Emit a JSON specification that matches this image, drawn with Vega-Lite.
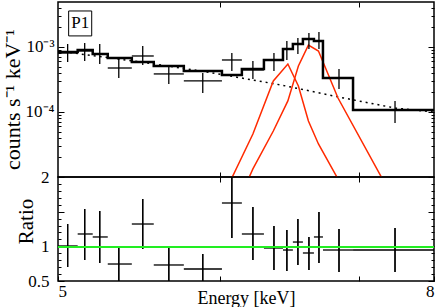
{
  "$schema": "https://vega.github.io/schema/vega-lite/v6.json",
  "padding": {"left": 0, "top": 0, "right": 0, "bottom": 0},
  "spacing": 0,
  "bounds": "flush",
  "config": {
    "font": "Liberation Serif",
    "view": {"stroke": "black", "strokeWidth": 1.5},
    "axis": {"domain": false, "grid": false, "tickColor": "black", "tickWidth": 1, "labelColor": "black", "titleColor": "black", "labelFont": "Liberation Serif", "titleFont": "Liberation Serif", "titleFontWeight": "normal", "labelFontSize": 17, "titleFontSize": 19}
  },
  "datasets": {
    "spec": [
      {"e": 5.077, "e0": 5.0, "e1": 5.157, "f": 8.09e-4, "flo": 5.88e-4, "fhi": 1.11e-3, "r": 1.005, "rlo": 0.702, "rhi": 1.322},
      {"e": 5.213, "e0": 5.157, "e1": 5.277, "f": 8.68e-4, "flo": 6.09e-4, "fhi": 1.15e-3, "r": 1.178, "rlo": 0.803, "rhi": 1.538},
      {"e": 5.333, "e0": 5.277, "e1": 5.397, "f": 7.80e-4, "flo": 5.47e-4, "fhi": 1.11e-3, "r": 1.135, "rlo": 0.76, "rhi": 1.51},
      {"e": 5.485, "e0": 5.397, "e1": 5.589, "f": 4.75e-4, "flo": 3.34e-4, "fhi": 6.54e-4, "r": 0.745, "rlo": 0.49, "rhi": 0.976},
      {"e": 5.676, "e0": 5.589, "e1": 5.764, "f": 7.27e-4, "flo": 5.28e-4, "fhi": 1.04e-3, "r": 1.322, "rlo": 0.96, "rhi": 1.683},
      {"e": 5.884, "e0": 5.764, "e1": 6.004, "f": 3.85e-4, "flo": 2.70e-4, "fhi": 5.10e-4, "r": 0.731, "rlo": 0.49, "rhi": 0.976},
      {"e": 6.155, "e0": 6.004, "e1": 6.308, "f": 3.00e-4, "flo": 1.96e-4, "fhi": 3.98e-4, "r": 0.673, "rlo": 0.49, "rhi": 0.889},
      {"e": 6.387, "e0": 6.308, "e1": 6.467, "f": 6.31e-4, "flo": 4.27e-4, "fhi": 8.09e-4, "r": 1.625, "rlo": 1.12, "rhi": 2.02},
      {"e": 6.555, "e0": 6.467, "e1": 6.643, "f": 4.43e-4, "flo": 3.22e-4, "fhi": 6.09e-4, "r": 1.178, "rlo": 0.803, "rhi": 1.567},
      {"e": 6.723, "e0": 6.643, "e1": 6.795, "f": 6.31e-4, "flo": 4.27e-4, "fhi": 8.09e-4, "r": 0.976, "rlo": 0.659, "rhi": 1.293},
      {"e": 6.826, "e0": 6.795, "e1": 6.874, "f": 9.31e-4, "flo": 6.31e-4, "fhi": 1.24e-3, "r": 0.947, "rlo": 0.644, "rhi": 1.236},
      {"e": 6.914, "e0": 6.874, "e1": 6.954, "f": 1.11e-3, "flo": 7.80e-4, "fhi": 1.37e-3, "r": 1.062, "rlo": 0.731, "rhi": 1.394},
      {"e": 7.002, "e0": 6.954, "e1": 7.042, "f": 1.33e-3, "flo": 9.31e-4, "fhi": 1.64e-3, "r": 0.904, "rlo": 0.659, "rhi": 1.135},
      {"e": 7.082, "e0": 7.042, "e1": 7.114, "f": 1.24e-3, "flo": 9.31e-4, "fhi": 1.70e-3, "r": 1.135, "rlo": 0.76, "rhi": 1.495},
      {"e": 7.242, "e0": 7.114, "e1": 7.354, "f": 3.34e-4, "flo": 2.26e-4, "fhi": 4.59e-4, "r": 0.947, "rlo": 0.63, "rhi": 1.25},
      {"e": 7.689, "e0": 7.354, "e1": 8.0, "f": 1.07e-4, "flo": 6.78e-5, "fhi": 1.48e-4, "r": 0.947, "rlo": 0.63, "rhi": 1.264}
    ],
    "model": [
      {"e": 5.0, "m": 8.38e-4}, {"e": 5.157, "m": 8.99e-4}, {"e": 5.277, "m": 7.80e-4}, {"e": 5.397, "m": 6.77e-4},
      {"e": 5.589, "m": 5.88e-4}, {"e": 5.764, "m": 5.10e-4}, {"e": 6.004, "m": 4.27e-4}, {"e": 6.308, "m": 3.71e-4},
      {"e": 6.467, "m": 4.59e-4}, {"e": 6.643, "m": 6.31e-4}, {"e": 6.795, "m": 9.31e-4}, {"e": 6.874, "m": 1.11e-3},
      {"e": 6.954, "m": 1.33e-3}, {"e": 7.042, "m": 1.24e-3}, {"e": 7.114, "m": 3.34e-4}, {"e": 7.354, "m": 1.07e-4},
      {"e": 8.0, "m": 1.07e-4}
    ],
    "cont": [
      {"e": 5.0, "c": 8.68e-4}, {"e": 5.66, "c": 5.88e-4}, {"e": 6.14, "c": 4.27e-4}, {"e": 6.28, "c": 3.85e-4},
      {"e": 6.78, "c": 2.60e-4}, {"e": 7.28, "c": 1.64e-4}, {"e": 7.69, "c": 1.15e-4}, {"e": 8.0, "c": 1.0e-4}
    ],
    "lines": [
      {"line": "a", "e": 6.155, "g": 2.5e-7}, {"line": "a", "e": 6.387, "g": 9.66e-6}, {"line": "a", "e": 6.555, "g": 4.59e-5},
      {"line": "a", "e": 6.718, "g": 3.0e-4}, {"line": "a", "e": 6.834, "g": 5.47e-4}, {"line": "a", "e": 6.918, "g": 2.51e-4},
      {"line": "a", "e": 6.998, "g": 7.28e-5}, {"line": "a", "e": 7.078, "g": 3.22e-5}, {"line": "a", "e": 7.234, "g": 9.31e-6},
      {"line": "a", "e": 7.685, "g": 1.24e-7},
      {"line": "b", "e": 6.387, "g": 2.51e-6}, {"line": "b", "e": 6.555, "g": 1.33e-5}, {"line": "b", "e": 6.718, "g": 5.1e-5},
      {"line": "b", "e": 6.834, "g": 1.48e-4}, {"line": "b", "e": 6.918, "g": 5.1e-4}, {"line": "b", "e": 6.998, "g": 1.07e-3},
      {"line": "b", "e": 7.078, "g": 8.68e-4}, {"line": "b", "e": 7.234, "g": 1.64e-4}, {"line": "b", "e": 7.685, "g": 4.27e-6}
    ],
    "label": [{"name": "P1", "x0": 5.085, "x1": 5.269, "xm": 5.177, "y0": 1.48e-3, "y1": 3.58e-3, "ym": 2.34e-3}],
    "unity": [{"ratio": 0.99}]
  },
  "vconcat": [
    {
      "width": 376,
      "height": 175,
      "resolve": {"axis": {"x": "independent", "y": "independent"}},
      "layer": [
        {
          "data": {"name": "cont"},
          "mark": {"type": "line", "color": "black", "strokeWidth": 1.5, "strokeDash": [2, 4], "clip": true},
          "encoding": {
            "x": {"field": "e", "type": "quantitative", "scale": {"domain": [5, 8], "nice": false, "zero": false},
                  "axis": {"orient": "bottom", "values": [6.291, 7.401], "labels": false, "tickSize": -5, "title": null}},
            "y": {"field": "c", "type": "quantitative", "scale": {"type": "log", "domain": [1e-5, 0.00492], "nice": false},
                  "axis": {"orient": "left", "values": [0.0001, 0.001], "tickSize": -6, "labelPadding": 10, "labelExpr": "datum.value > 0.0005 ? '10⁻³' : '10⁻⁴'", "labelBaseline": "middle", "title": "counts s⁻¹ keV⁻¹", "titleFontSize": 22, "titleX": -39, "titleY": 97, "titleBaseline": "alphabetic", "titleAngle": -90}}
          }
        },
        {
          "data": {"name": "lines"},
          "mark": {"type": "line", "color": "#ff2a00", "strokeWidth": 1.5, "clip": true},
          "encoding": {
            "x": {"field": "e", "type": "quantitative", "axis": {"orient": "top", "values": [6.291, 7.401], "labels": false, "tickSize": -5, "title": null}},
            "y": {"field": "g", "type": "quantitative", "axis": {"orient": "left", "values": [2e-5, 3e-5, 4e-5, 5e-5, 6e-5, 7e-5, 8e-5, 9e-5, 2e-4, 3e-4, 4e-4, 5e-4, 6e-4, 7e-4, 8e-4, 9e-4, 2e-3, 3e-3, 4e-3], "labels": false, "tickSize": -3, "title": null}},
            "detail": {"field": "line"}
          }
        },
        {
          "data": {"name": "model"},
          "mark": {"type": "line", "color": "black", "strokeWidth": 2.5, "interpolate": "step-after", "clip": true},
          "encoding": {
            "x": {"field": "e", "type": "quantitative", "axis": null},
            "y": {"field": "m", "type": "quantitative", "axis": {"orient": "right", "values": [0.0001, 0.001], "labels": false, "tickSize": -6, "title": null}}
          }
        },
        {
          "data": {"name": "spec"},
          "mark": {"type": "rule", "color": "black", "strokeWidth": 1.3, "clip": true},
          "encoding": {
            "x": {"field": "e0", "type": "quantitative", "axis": null},
            "x2": {"field": "e1"},
            "y": {"field": "f", "type": "quantitative", "axis": {"orient": "right", "values": [2e-5, 3e-5, 4e-5, 5e-5, 6e-5, 7e-5, 8e-5, 9e-5, 2e-4, 3e-4, 4e-4, 5e-4, 6e-4, 7e-4, 8e-4, 9e-4, 2e-3, 3e-3, 4e-3], "labels": false, "tickSize": -3, "title": null}}
          }
        },
        {
          "data": {"name": "spec"},
          "mark": {"type": "rule", "color": "black", "strokeWidth": 1.3, "clip": true},
          "encoding": {
            "x": {"field": "e", "type": "quantitative", "axis": null},
            "y": {"field": "flo", "type": "quantitative", "axis": null},
            "y2": {"field": "fhi"}
          }
        },
        {
          "data": {"name": "label"},
          "mark": {"type": "rect", "fill": "white", "stroke": "black", "strokeWidth": 1},
          "encoding": {
            "x": {"field": "x0", "type": "quantitative", "axis": null},
            "x2": {"field": "x1"},
            "y": {"field": "y0", "type": "quantitative", "axis": null},
            "y2": {"field": "y1"}
          }
        },
        {
          "data": {"name": "label"},
          "mark": {"type": "text", "fontSize": 17, "font": "Liberation Serif", "color": "black", "baseline": "middle", "align": "center"},
          "encoding": {
            "x": {"field": "xm", "type": "quantitative", "axis": null},
            "y": {"field": "ym", "type": "quantitative", "axis": null},
            "text": {"field": "name"}
          }
        }
      ]
    },
    {
      "width": 376,
      "height": 104,
      "resolve": {"axis": {"x": "independent", "y": "independent"}},
      "layer": [
        {
          "data": {"name": "spec"},
          "mark": {"type": "rule", "color": "black", "strokeWidth": 1.3, "clip": true},
          "encoding": {
            "x": {"field": "e0", "type": "quantitative", "scale": {"domain": [5, 8], "nice": false, "zero": false},
                  "axis": {"orient": "bottom", "values": [5, 6.291, 7.401, 8], "tickSize": -5, "labelPadding": 7, "labelExpr": "datum.value == 5 || datum.value == 8 ? datum.label : ''", "title": "Energy [keV]", "titleFontSize": 18, "titleBaseline": "alphabetic", "titleY": 22}},
            "x2": {"field": "e1"},
            "y": {"field": "r", "type": "quantitative", "scale": {"domain": [0.5, 2], "nice": false, "zero": false},
                  "axis": {"orient": "left", "values": [0.5, 1, 1.5, 2], "tickSize": -6, "labelPadding": 15, "labelExpr": "datum.value == 2 ? '2' : datum.value == 1 ? '1' : datum.value == 0.5 ? '0.5' : ''", "labelBaseline": "middle", "title": "Ratio", "titleFontSize": 21, "titleX": -26, "titleY": 44, "titleBaseline": "alphabetic", "titleAngle": -90}}
          }
        },
        {
          "data": {"name": "spec"},
          "mark": {"type": "rule", "color": "black", "strokeWidth": 1.3, "clip": true},
          "encoding": {
            "x": {"field": "e", "type": "quantitative", "axis": {"orient": "top", "values": [6.291, 7.401], "labels": false, "tickSize": -5, "title": null}},
            "y": {"field": "rlo", "type": "quantitative", "axis": {"orient": "left", "values": [0.6, 0.7, 0.8, 0.9, 1.1, 1.2, 1.3, 1.4, 1.6, 1.7, 1.8, 1.9], "labels": false, "tickSize": -3, "title": null}},
            "y2": {"field": "rhi"}
          }
        },
        {
          "data": {"name": "spec"},
          "mark": {"type": "rule", "color": "black", "strokeWidth": 1.3, "clip": true},
          "encoding": {
            "x": {"field": "e", "type": "quantitative", "axis": null},
            "y": {"field": "rlo", "type": "quantitative", "axis": {"orient": "right", "values": [0.5, 1, 1.5, 2], "labels": false, "tickSize": -6, "title": null}},
            "y2": {"field": "rhi"}
          }
        },
        {
          "data": {"name": "unity"},
          "mark": {"type": "rule", "color": "#22ee22", "strokeWidth": 2},
          "encoding": {
            "y": {"field": "ratio", "type": "quantitative", "axis": {"orient": "right", "values": [0.6, 0.7, 0.8, 0.9, 1.1, 1.2, 1.3, 1.4, 1.6, 1.7, 1.8, 1.9], "labels": false, "tickSize": -3, "title": null}}
          }
        }
      ]
    }
  ]
}
